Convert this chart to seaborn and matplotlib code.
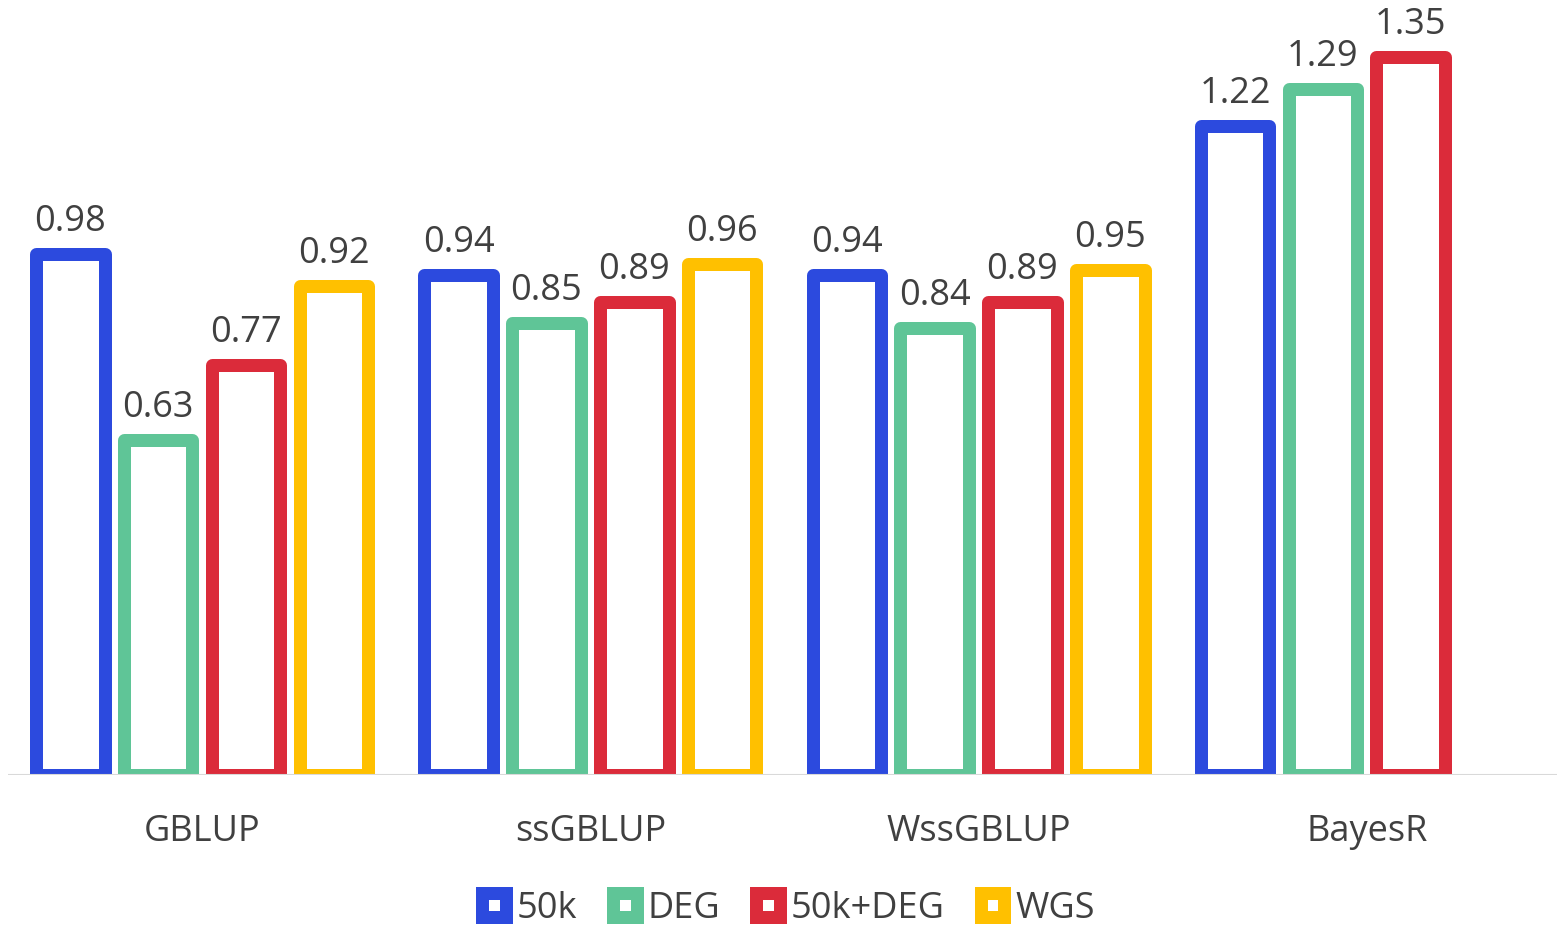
import matplotlib
matplotlib.use("Agg")
import matplotlib.pyplot as plt
from matplotlib.patches import Patch
import numpy as np
import pandas as pd
import seaborn as sns

# Prediction results per method and marker panel
methods = ["GBLUP", "ssGBLUP", "WssGBLUP", "BayesR"]
panels = ["50k", "DEG", "50k+DEG", "WGS"]
vals_50k = [0.98, 0.94, 0.94, 1.22]
vals_deg = [0.63, 0.85, 0.84, 1.29]
vals_50k_deg = [0.77, 0.89, 0.89, 1.35]
vals_wgs = [0.92, 0.96, 0.95, np.nan]

colors = ["#2C4ADE", "#5FC597", "#DB2B3A", "#FFC000"]
text_color = "#404040"

df = pd.DataFrame({
    "method": methods * 4,
    "panel": [p for p in panels for _ in methods],
    "value": vals_50k + vals_deg + vals_50k_deg + vals_wgs,
})

sns.set_theme(style="white")
plt.rcParams["font.family"] = ["Open Sans", "DejaVu Sans"]

W, H = 1557, 926
fig = plt.figure(figsize=(W / 100, H / 100), dpi=100)
ax = fig.add_axes([8 / W, 151 / H, 1 - 8 / W, 775 / H])

sns.barplot(
    data=df, x="method", y="value", hue="panel",
    order=methods, hue_order=panels, palette=colors,
    width=0.905, gap=0.22, ax=ax, legend=False, errorbar=None,
)

lw_pt = 13 * 72 / 100
for cont, col in zip(ax.containers, colors):
    for bar in cont:
        bar.set_facecolor("white")
        bar.set_edgecolor(col)
        bar.set_linewidth(lw_pt)
        bar.set_joinstyle("round")
    ax.bar_label(cont, fmt="%.2f", padding=10, fontsize=26, color=text_color)

ax.axhline(0, color="#d9d9d9", lw=1.5, zorder=5)
ax.set_xlim(-0.5, 3.49)
ax.set_ylim(0, 775 / 532)
for s in ax.spines.values():
    s.set_visible(False)
ax.set_yticks([])
ax.set_xlabel("")
ax.set_ylabel("")
ax.tick_params(axis="x", length=0, pad=28, labelsize=26, labelcolor=text_color)

handles = [
    Patch(facecolor="white", edgecolor=c, linewidth=lw_pt, joinstyle="round", label=p)
    for p, c in zip(panels, colors)
]
fig.legend(
    handles=handles, loc="center", bbox_to_anchor=(788.5 / W, 17 / H),
    ncol=4, frameon=False, fontsize=26, labelcolor=text_color,
    handlelength=0.65, handleheight=0.65, handletextpad=0.3, columnspacing=1.0,
)

fig.savefig("out.png", dpi=100)
